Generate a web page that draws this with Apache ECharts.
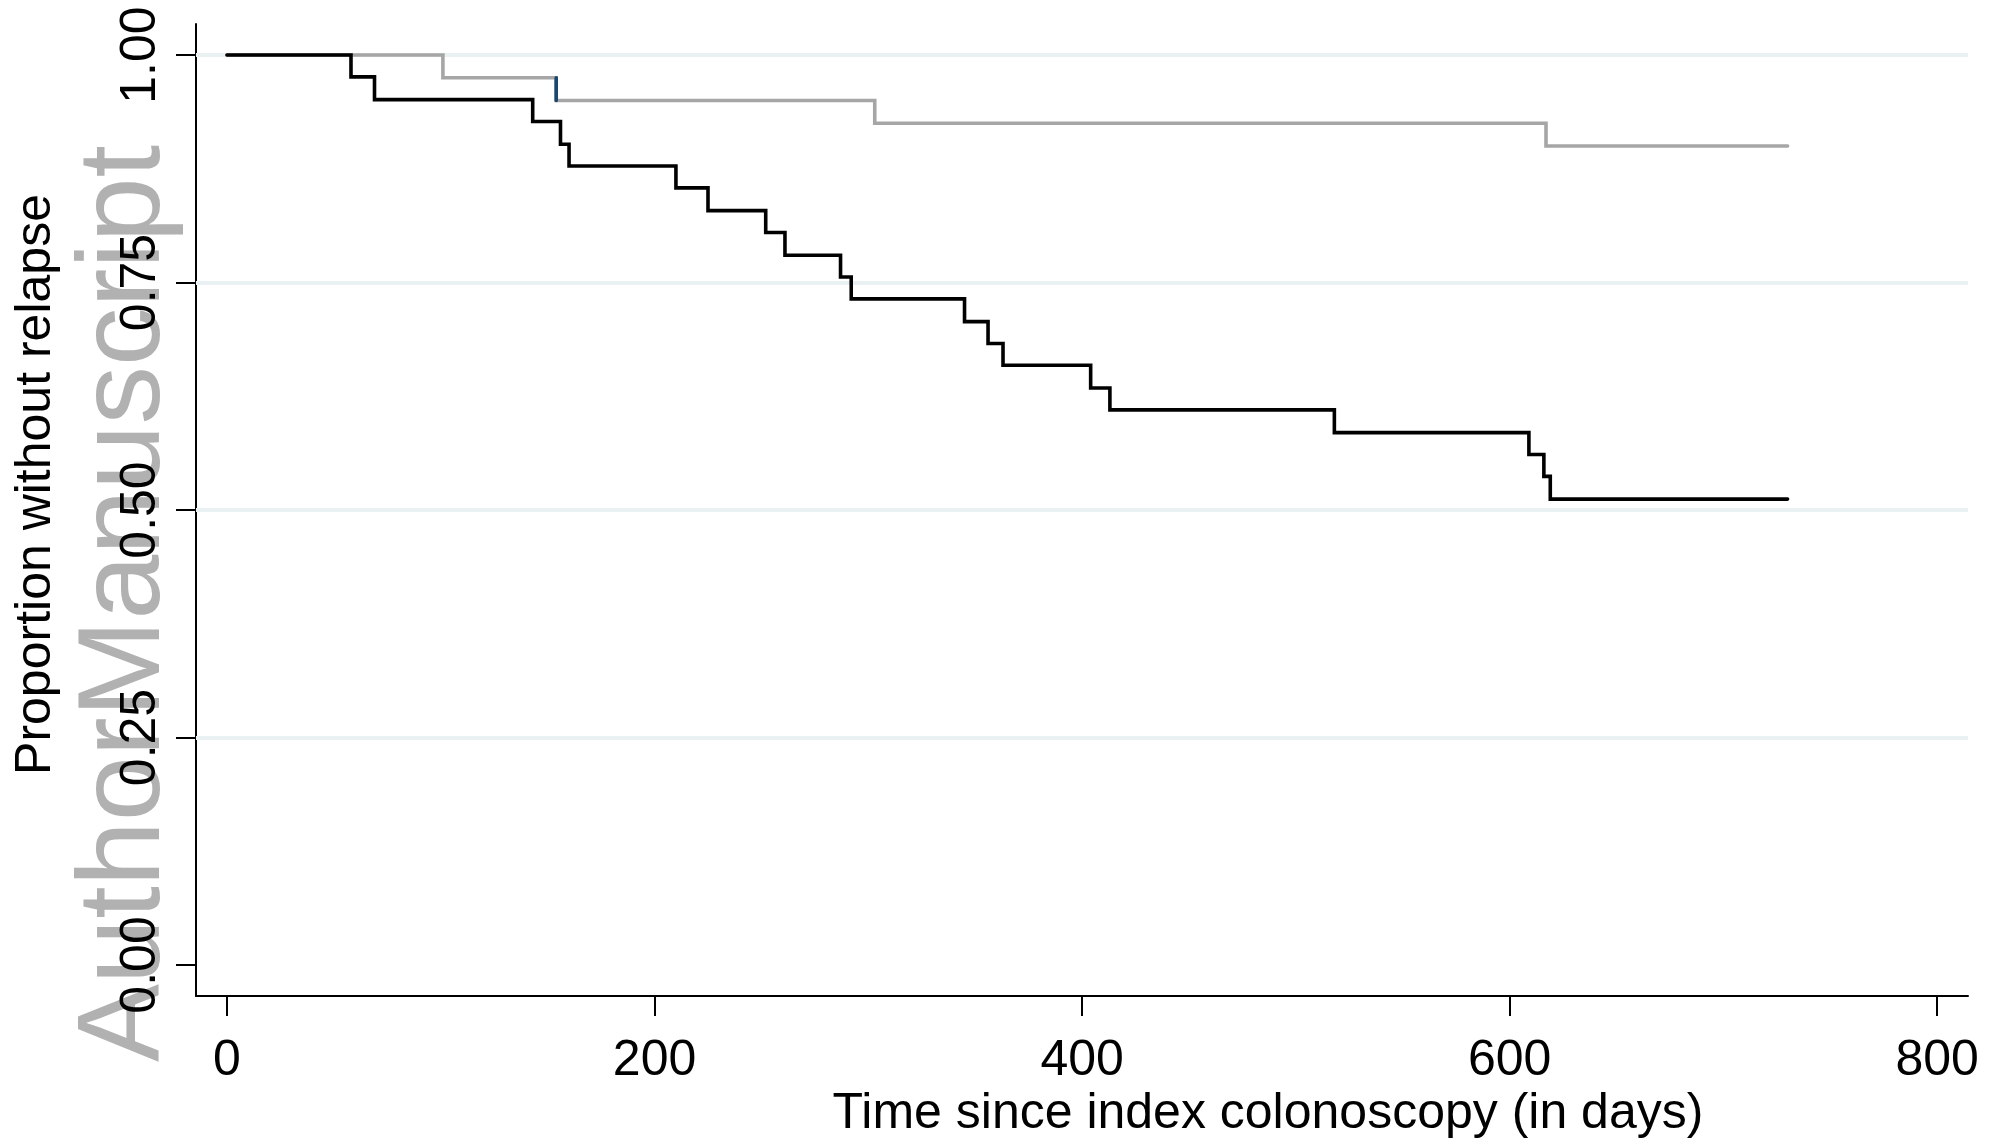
<!DOCTYPE html>
<html>
<head>
<meta charset="utf-8">
<script src="https://cdn.jsdelivr.net/npm/echarts@6/dist/echarts.min.js"></script>
<style>
html,body{margin:0;padding:0;background:#fff;}
#chart{width:1991px;height:1147px;}
</style>
</head>
<body>
<div id="chart"></div>
<script>
// Kaplan-Meier curves: [day, proportion without relapse]
const blackCurve = [
  [0, 1.000], [58, 0.976], [69, 0.951], [143, 0.927], [156, 0.902], [160, 0.878],
  [210, 0.854], [225, 0.829], [252, 0.805], [261, 0.780], [287, 0.756], [292, 0.732],
  [345, 0.707], [356, 0.683], [363, 0.659], [404, 0.634], [413, 0.610], [518, 0.585],
  [609, 0.561], [616, 0.537], [619, 0.512], [730, 0.512]
];
const grayCurve = [
  [0, 1.000], [101, 0.975], [154, 0.950], [303, 0.925], [617, 0.900], [730, 0.900]
];
const navySegment = [[154, 0.975], [154, 0.950]];

const xTickValues = [0, 200, 400, 600, 800];
const yTickValues = [0, 0.25, 0.5, 0.75, 1];
const yTickLabels = ['0.00', '0.25', '0.50', '0.75', '1.00'];
const gridValues = [0.25, 0.5, 0.75, 1];

const xTitle = 'Time since index colonoscopy (in days)';
const yTitle = 'Proportion without relapse';
const watermark = 'AuthorManuscript';

const FONT = "'Liberation Sans', Arial, Helvetica, sans-serif";

const chart = echarts.init(document.getElementById('chart'), null, {renderer: 'canvas'});
chart.setOption({
  animation: false,
  backgroundColor: '#ffffff',
  grid: {left: 196, right: 23, top: 24, bottom: 151, containLabel: false},
  xAxis: {
    type: 'value',
    min: -14.5, max: 814.4,
    axisLine: {show: true, onZero: false, lineStyle: {color: '#000', width: 2}},
    axisTick: {show: true, customValues: xTickValues, length: 20, lineStyle: {color: '#000', width: 2}},
    axisLabel: {show: true, customValues: xTickValues, margin: 40, fontSize: 50, color: '#000', fontFamily: FONT},
    splitLine: {show: false}
  },
  yAxis: {
    type: 'value',
    min: -0.0341, max: 1.0341,
    axisLine: {show: true, onZero: false, lineStyle: {color: '#000', width: 2}},
    axisTick: {show: true, customValues: yTickValues, length: 20, lineStyle: {color: '#000', width: 2}},
    axisLabel: {
      show: true, customValues: yTickValues, rotate: 90, margin: 30, fontSize: 50, color: '#000', fontFamily: FONT,
      formatter: function (v) {
        const i = yTickValues.findIndex(t => Math.abs(t - v) < 1e-9);
        return i >= 0 ? yTickLabels[i] : '';
      }
    },
    splitLine: {show: false}
  },
  graphic: {
    elements: [
      {
        type: 'text', z: -10, x: 127, y: 603.5, rotation: Math.PI / 2,
        style: {text: watermark, fill: '#b1b1b1', font: '117px ' + FONT, align: 'center', verticalAlign: 'middle'}
      },
      {
        type: 'text', x: 36.3, y: 484.5, rotation: Math.PI / 2,
        style: {text: yTitle, fill: '#000', font: '50px ' + FONT, align: 'center', verticalAlign: 'middle'}
      },
      {
        type: 'text', x: 1268, y: 1114.4,
        style: {text: xTitle, fill: '#000', font: '50px ' + FONT, align: 'center', verticalAlign: 'middle'}
      }
    ]
  },
  series: [
    {
      type: 'line', data: [], silent: true, z: 1,
      markLine: {
        z: 1, silent: true, symbol: ['none', 'none'], label: {show: false}, animation: false,
        lineStyle: {color: '#e9f1f3', width: 4, type: 'solid'},
        data: gridValues.map(v => ({yAxis: v}))
      }
    },
    {
      type: 'line', data: grayCurve, step: 'end', showSymbol: false, symbol: 'none', z: 3,
      lineStyle: {color: '#a6a6a6', width: 3.6, cap: 'round', join: 'miter'}
    },
    {
      type: 'line', data: navySegment, showSymbol: false, symbol: 'none', z: 4,
      lineStyle: {color: '#1a476f', width: 3.6, cap: 'round'}
    },
    {
      type: 'line', data: blackCurve, step: 'end', showSymbol: false, symbol: 'none', z: 5,
      lineStyle: {color: '#000000', width: 3.6, cap: 'round', join: 'miter'}
    }
  ]
});
</script>
</body>
</html>
